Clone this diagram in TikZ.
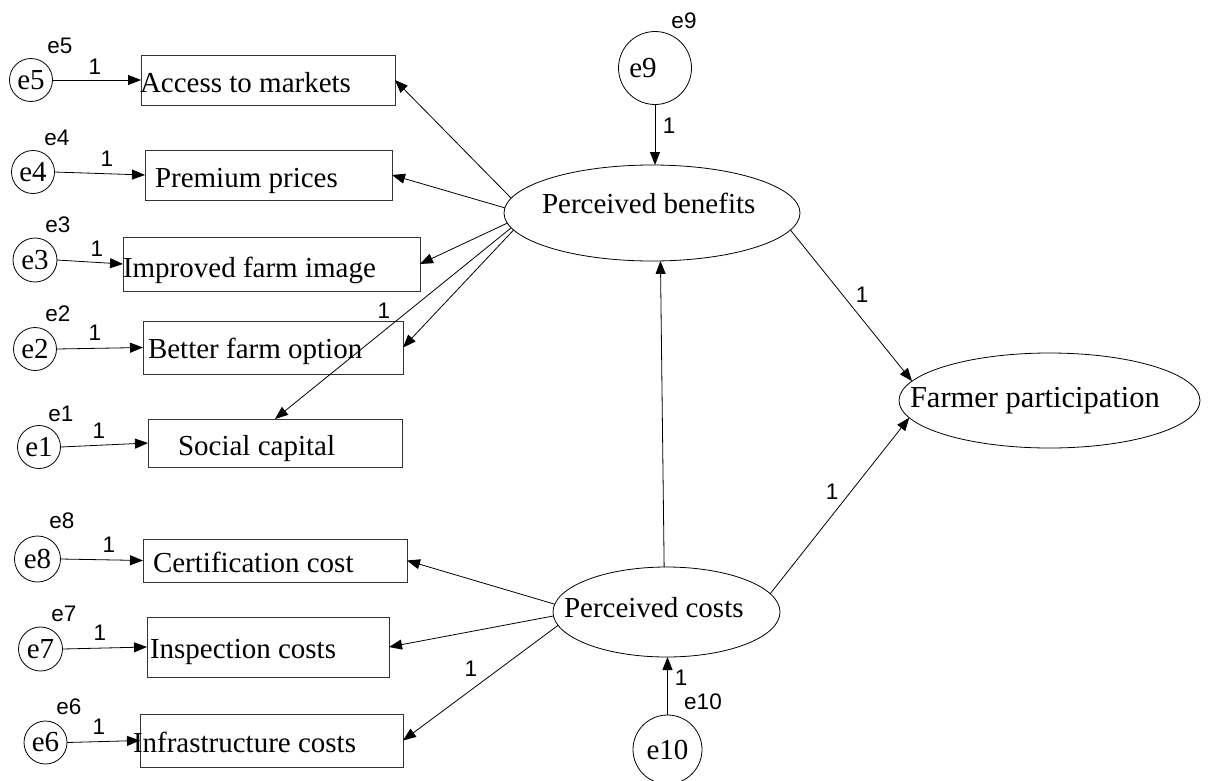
\documentclass[tikz,border=0pt]{standalone}
\usepackage{fontspec}
\setmainfont{Liberation Serif}
\setsansfont{Liberation Sans}
\usetikzlibrary{arrows.meta,shapes.geometric}
\newcommand\fsSerif{\fontsize{29pt}{34pt}\selectfont}
\newcommand\fsBig{\fontsize{30.5pt}{36pt}\selectfont}
\newcommand\fsSans{\fontsize{22.5pt}{26pt}\selectfont\sffamily}
\begin{document}
\begin{tikzpicture}[x=1pt,y=-1pt,
  every node/.style={inner sep=0pt,outer sep=0pt},
  obs/.style={draw=black!80,line width=0.9pt,rectangle},
  lat/.style={draw,line width=0.8pt,ellipse},
  err/.style={draw,line width=0.8pt,circle,font=\fsSerif},
  boxtext/.style={anchor=base west,font=\fsSerif},
  lab/.style={font=\fsSans},
  conn/.style={line width=0.8pt,-{Triangle[length=13pt,width=10pt]}}]
\useasboundingbox (0,0) rectangle (1218,780);

% observed variables
\node[obs,minimum width=254pt,minimum height=50pt] (access) at (268,80) {};
\node[obs,minimum width=247pt,minimum height=50pt] (premium) at (268.5,175) {};
\node[obs,minimum width=297pt,minimum height=54pt] (improved) at (271.5,264) {};
\node[obs,minimum width=260pt,minimum height=53pt] (better) at (273,347.5) {};
\node[obs,minimum width=254pt,minimum height=48pt] (social) at (275,443) {};
\node[obs,minimum width=264pt,minimum height=43pt] (cert) at (275,560.5) {};
\node[obs,minimum width=242pt,minimum height=60pt] (insp) at (268,647) {};
\node[obs,minimum width=263pt,minimum height=53pt] (infra) at (271.5,740.5) {};

\node[boxtext] (access-t) at (140,92) {Access to markets};
\node[boxtext] (premium-t) at (155,187) {Premium prices};
\node[boxtext] (improved-t) at (123,277) {Improved farm image};
\node[boxtext] (better-t) at (148,358) {Better farm option};
\node[boxtext] (social-t) at (178,455) {Social capital};
\node[boxtext] (cert-t) at (153,572) {Certification cost};
\node[boxtext] (insp-t) at (150,658) {Inspection costs};
\node[boxtext] (infra-t) at (133,752) {Infrastructure costs};

% latent variables
\node[lat,minimum width=296pt,minimum height=96pt] (pb) at (652,213) {};
\node[lat,minimum width=227pt,minimum height=90pt] (pc) at (666.5,612) {};
\node[lat,minimum width=301pt,minimum height=95pt] (fp) at (1049.5,400.5) {};
\node[boxtext] (pb-t) at (542,213) {Perceived benefits};
\node[boxtext] (pc-t) at (564,617) {Perceived costs};
\node[boxtext,font=\fsBig] (fp-t) at (910,407) {Farmer participation};

% error terms
\node[err,minimum size=43pt] (e5) at (31,80) {e5};
\node[err,minimum size=43pt] (e4) at (33,172) {e4};
\node[err,minimum size=44pt] (e3) at (35,260) {e3};
\node[err,minimum size=43pt] (e2) at (35,349) {e2};
\node[err,minimum size=43pt] (e1) at (39,447) {e1};
\node[err,minimum size=46pt] (e8) at (37.5,559) {e8};
\node[err,minimum size=44pt] (e7) at (40.5,649) {e7};
\node[err,minimum size=43pt] (e6) at (45.5,742.5) {e6};
\node[err,minimum size=73pt] (e9) at (655,68) {\hspace*{-24pt}e9};
\node[err,minimum size=69pt] (e10) at (667.5,749.5) {e10};

% error labels
\node[lab] (le5) at (60,46) {e5};
\node[lab] (le4) at (57,138) {e4};
\node[lab] (le3) at (58,225) {e3};
\node[lab] (le2) at (58,314) {e2};
\node[lab] (le1) at (61,414) {e1};
\node[lab] (le8) at (62,521) {e8};
\node[lab] (le7) at (64,614) {e7};
\node[lab] (le6) at (69,707) {e6};
\node[lab] (le9) at (684,21) {e9};
\node[lab] (le10) at (703,702) {e10};

% error arrows
\draw[conn] (e5.east) -- (access.west);
\draw[conn] (e4.east) -- (premium.west);
\draw[conn] (e3.east) -- (improved.west);
\draw[conn] (e2.east) -- (better.west);
\draw[conn] (e1.east) -- (social.west);
\draw[conn] (e8.east) -- (cert.west);
\draw[conn] (e7.east) -- (insp.west);
\draw[conn] (e6.east) -- (infra.west);
\draw[conn] (e9.south) -- (e9.south |- pb.north);
\draw[conn] (e10.north) -- (e10.north |- pc.south);

% loadings
\draw[conn] (pb.174) -- (access.east);
\draw[conn] (pb.178.4) -- (premium.east);
\draw[conn] (pb.184.8) -- (improved.east);
\draw[conn] (pb.187.9) -- (better.east);
\draw[conn] (pb.186) -- (social.north);
\draw[conn] (pc.176.6) -- (cert.east);
\draw[conn] (pc.182.5) -- (insp.east);
\draw[conn] (pc.187.8) -- (infra.east);

% structural paths
\draw[conn] (pc.93) -- (pb.280);
\draw[conn] (pb.353.4) -- (fp.172.4);
\draw[conn] (pc.10.7) -- (fp.187.2);

% path labels "1"
\node[lab] (o5) at (95,67) {1};
\node[lab] (o4) at (107,159) {1};
\node[lab] (o3) at (97,249) {1};
\node[lab] (o2) at (95,333) {1};
\node[lab] (o1) at (99,431) {1};
\node[lab] (o8) at (109,545) {1};
\node[lab] (o7) at (100,633) {1};
\node[lab] (o6) at (99,727) {1};
\node[lab] (o9) at (669,126) {1};
\node[lab] (o10) at (681,678) {1};
\node[lab] (osoc) at (384,311) {1};
\node[lab] (oinf) at (471,669) {1};
\node[lab] (opb) at (862,295) {1};
\node[lab] (opc) at (832,492) {1};
\end{tikzpicture}
\end{document}
